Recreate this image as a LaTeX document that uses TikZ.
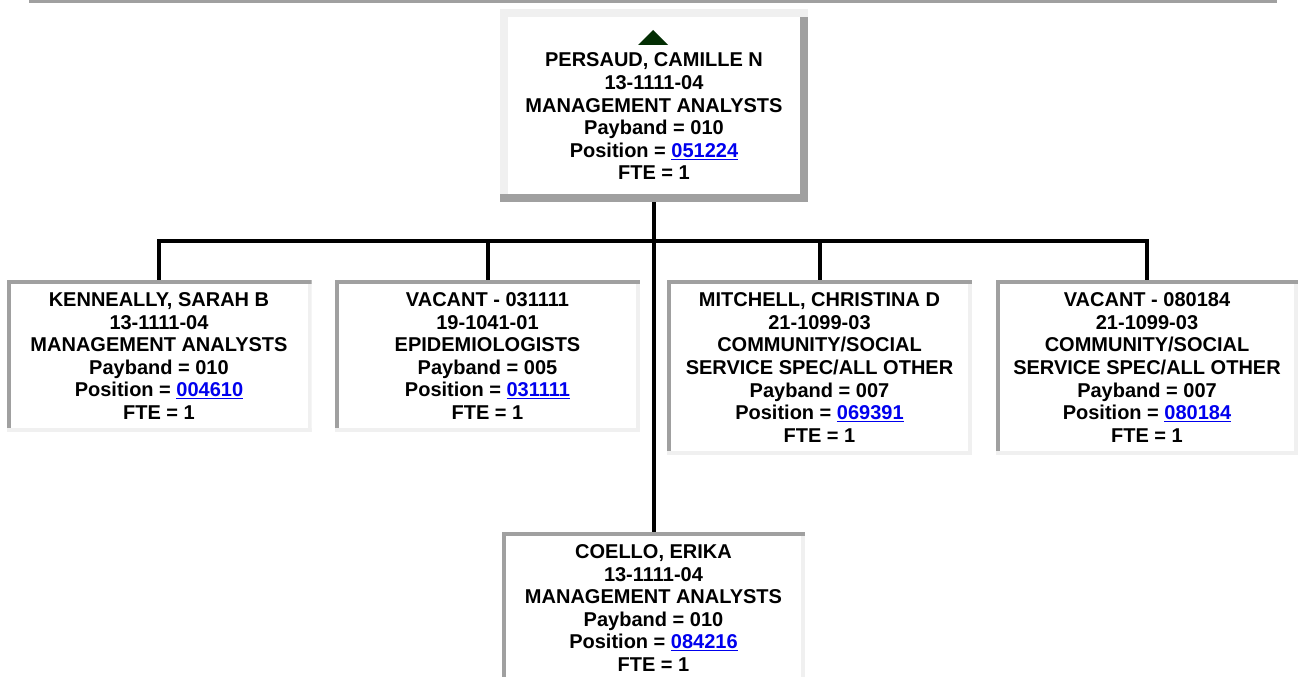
\documentclass[tikz,border=0pt]{standalone}
\usepackage{fontspec}
\setmainfont{Liberation Sans}
\definecolor{bevlight}{HTML}{F0F0F0}
\definecolor{bevdark}{HTML}{A0A0A0}
\definecolor{linkblue}{HTML}{0000EE}
\definecolor{upgreen}{HTML}{032E03}
\newcommand{\poslink}[1]{\textcolor{linkblue}{\underline{#1}}}
\tikzset{bevel/.style n args={3}{path picture={
    \fill[#1] (path picture bounding box.north west) rectangle ([xshift=#3]path picture bounding box.south west);
    \fill[#2] (path picture bounding box.north east) rectangle ([xshift=-#3]path picture bounding box.south east);
    \fill[#1] (path picture bounding box.north west) rectangle ([yshift=-#3]path picture bounding box.north east);
    \fill[#2] (path picture bounding box.south west) rectangle ([yshift=#3]path picture bounding box.south east);}},
  info/.style={font=\fontsize{20}{22.6}\selectfont\bfseries,align=center,inner sep=0pt},
  bossbox/.style={rectangle,fill=white,bevel={bevlight}{bevdark}{8pt},minimum width=308pt,minimum height=193pt,inner sep=0pt},
  post/.style={info,rectangle,fill=white,bevel={bevdark}{bevlight}{4pt},minimum width=305pt,minimum height=152pt},
  tallpost/.style={post,minimum height=175pt},
  tie/.style={line width=4pt,black}}

\begin{document}
\begin{tikzpicture}[x=1pt,y=-1pt]
  \clip (0,0) rectangle (1299,677);
  \fill[white] (0,0) rectangle (1299,677);
  \draw[bevdark,line width=3pt] (29,1.5)--(1277,1.5);
  % head of the unit
  \node[bossbox] (boss) at (654,105.5) {};
  \fill[upgreen] (638,45)--(653,30)--(668,45)--cycle;
  \node[info] (bossinfo) at (654,116.5) {PERSAUD, CAMILLE N\\13-1111-04\\MANAGEMENT ANALYSTS\\Payband = 010\\Position = \poslink{051224}\\FTE = 1};
  % direct reports
  \node[post] (ken) at (159,356) {KENNEALLY, SARAH B\\13-1111-04\\MANAGEMENT ANALYSTS\\Payband = 010\\Position = \poslink{004610}\\FTE = 1};
  \node[post] (epi) at (487.5,356) {VACANT - 031111\\19-1041-01\\EPIDEMIOLOGISTS\\Payband = 005\\Position = \poslink{031111}\\FTE = 1};
  \node[tallpost] (mit) at (819.5,367.5) {MITCHELL, CHRISTINA D\\21-1099-03\\COMMUNITY/SOCIAL\\SERVICE SPEC/ALL OTHER\\Payband = 007\\Position = \poslink{069391}\\FTE = 1};
  \node[tallpost,minimum width=302pt] (vac) at (1147,367.5) {VACANT - 080184\\21-1099-03\\COMMUNITY/SOCIAL\\SERVICE SPEC/ALL OTHER\\Payband = 007\\Position = \poslink{080184}\\FTE = 1};
  \node[post,minimum width=303pt] (coe) at (653.5,608) {COELLO, ERIKA\\13-1111-04\\MANAGEMENT ANALYSTS\\Payband = 010\\Position = \poslink{084216}\\FTE = 1};
  % connectors
  \coordinate (bus) at (653.5,241);
  \draw[tie] (ken.north) |- (bus) -| (vac.north);
  \foreach \c in {epi,mit}{\draw[tie] (\c.north) -- (\c.north |- bus);}
  \draw[tie] (boss.south -| coe.north) -- (coe.north);
\end{tikzpicture}
\end{document}
